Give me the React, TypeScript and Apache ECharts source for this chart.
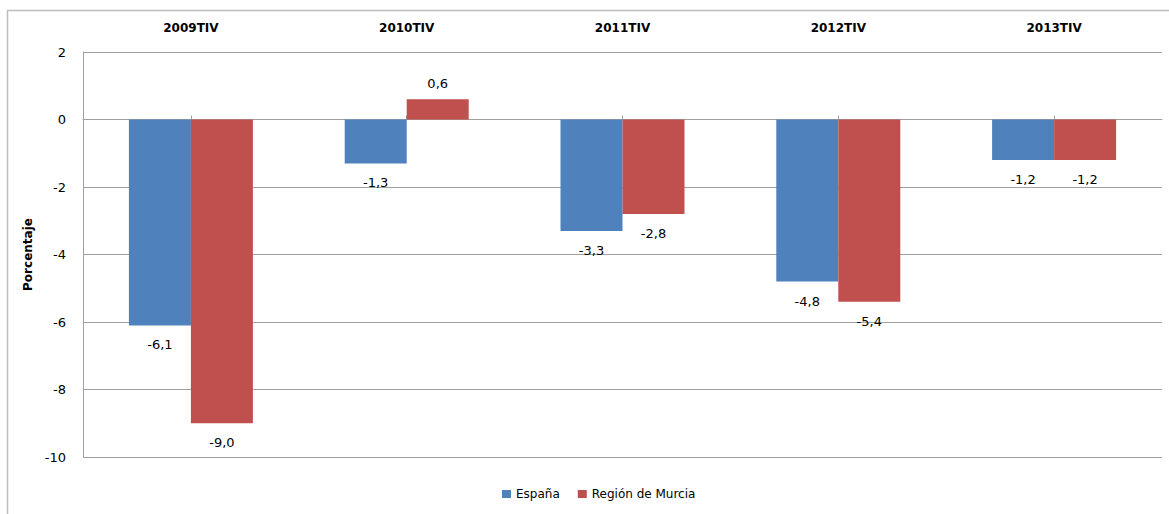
import React, { useEffect, useRef } from "react";
import * as echarts from "echarts";

const categories = ["2009TIV", "2010TIV", "2011TIV", "2012TIV", "2013TIV"];
const espana = [-6.1, -1.3, -3.3, -4.8, -1.2];
const murcia = [-9.0, 0.6, -2.8, -5.4, -1.2];
const seriesNames = ["España", "Región de Murcia"];
const yAxisName = "Porcentaje";

const FONT = "DejaVu Sans";

function fmt(v: number) {
  return v.toFixed(1).replace(".", ",");
}

function makeData(vals: number[]) {
  return vals.map((v) => ({
    value: v,
    label: {
      position: v < 0 ? "bottom" : "top",
      distance: v < 0 ? 13 : 9,
    },
  }));
}

export default function App() {
  const ref = useRef<HTMLDivElement>(null);
  useEffect(() => {
    if (!ref.current) return;
    const chart = echarts.init(ref.current, undefined, { renderer: "svg" });
    const labelStyle = {
      show: true,
      fontFamily: FONT,
      fontSize: 13,
      color: "#000",
      formatter: (p: any) => fmt(p.value),
    };
    chart.setOption({
      animation: false,
      backgroundColor: "#fff",
      textStyle: { fontFamily: FONT },
      grid: { left: 83, right: 7, top: 52, bottom: 57, containLabel: false },
      graphic: [
        {
          type: "rect",
          shape: { x: 7.5, y: 10.5, width: 1300, height: 700 },
          style: { fill: "none", stroke: "#bdbdbd", lineWidth: 1.5 },
          silent: true,
          z: -1,
        },
      ],
      legend: {
        bottom: 9,
        left: 497,
        itemWidth: 9,
        itemHeight: 8,
        itemGap: 18,
        icon: "rect",
        textStyle: { fontFamily: FONT, fontSize: 12, color: "#000" },
        data: seriesNames,
      },
      xAxis: [
        {
          type: "category",
          data: categories,
          position: "top",
          axisLine: { show: false, onZero: false },
          axisTick: { show: false },
          axisLabel: {
            margin: 18,
            fontFamily: FONT,
            fontSize: 12,
            fontWeight: "bold",
            color: "#000",
          },
        },
        {
          type: "category",
          data: categories,
          position: "bottom",
          axisLine: { show: true, onZero: true, lineStyle: { color: "#a0a0a0", width: 1 } },
          axisTick: { show: true, alignWithLabel: true, inside: true, length: 4, lineStyle: { color: "#a0a0a0" } },
          axisLabel: { show: false },
        },
      ],
      yAxis: {
        type: "value",
        min: -10,
        max: 2,
        interval: 2,
        name: yAxisName,
        nameLocation: "middle",
        nameRotate: 90,
        nameGap: 47,
        nameTextStyle: { fontFamily: FONT, fontSize: 12, fontWeight: "bold", color: "#000" },
        axisLine: { show: true, lineStyle: { color: "#a0a0a0" } },
        axisTick: { show: false },
        axisLabel: { margin: 17, fontFamily: FONT, fontSize: 13, color: "#000" },
        splitLine: { show: true, lineStyle: { color: "#a0a0a0" } },
      },
      series: [
        {
          name: seriesNames[0],
          type: "bar",
          xAxisIndex: 0,
          data: makeData(espana),
          barWidth: 62,
          barGap: "0%",
          itemStyle: { color: "#4F81BD" },
          label: labelStyle,
        },
        {
          name: seriesNames[1],
          type: "bar",
          xAxisIndex: 0,
          data: makeData(murcia),
          barWidth: 62,
          barGap: "0%",
          itemStyle: { color: "#C0504D" },
          label: labelStyle,
        },
      ],
    });
    return () => chart.dispose();
  }, []);
  return (
    <div
      ref={ref}
      style={{ position: "fixed", left: 0, top: 0, width: 1169, height: 514 }}
    />
  );
}
